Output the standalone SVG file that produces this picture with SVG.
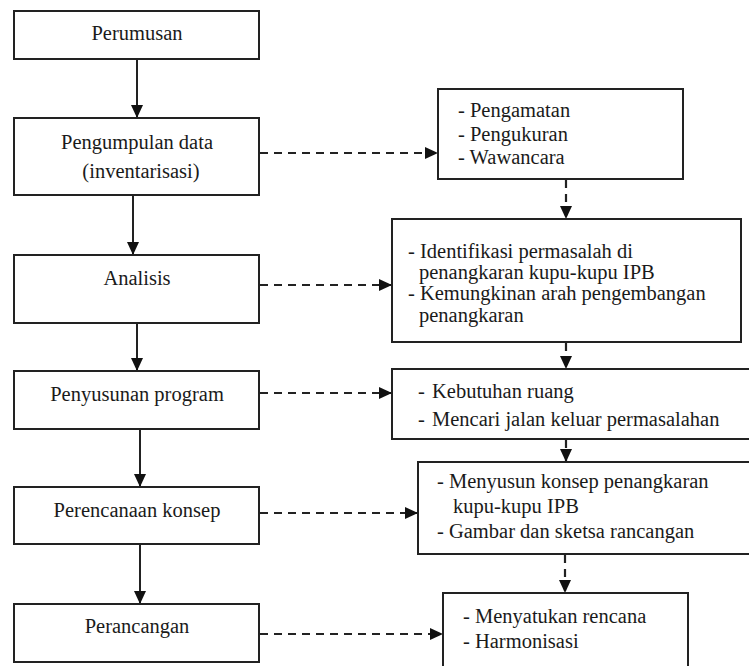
<svg xmlns="http://www.w3.org/2000/svg" width="749" height="666" viewBox="0 0 749 666">
<style>
  .box { fill: #ffffff; stroke: #222222; stroke-width: 2; }
  .t { font-family: "Liberation Serif", "Times New Roman", serif; font-size: 20.5px; fill: #1a1a1a; }
  .c { text-anchor: middle; }
  .solid { stroke: #222222; stroke-width: 2; fill: none; }
  .dash { stroke: #222222; stroke-width: 2.2; fill: none; stroke-dasharray: 8 6; }
</style>
<defs>
  <marker id="ah" viewBox="0 0 13 12" refX="12" refY="6" markerWidth="13" markerHeight="12" markerUnits="userSpaceOnUse" orient="auto">
    <path d="M0,0 L13,6 L0,12 Z" fill="#111111"/>
  </marker>
</defs>
<rect width="749" height="666" fill="#ffffff"/>

<g id="connectors">
  <line class="solid" x1="137" y1="59" x2="137" y2="117" marker-end="url(#ah)"/>
  <line class="solid" x1="133" y1="195" x2="133" y2="254" marker-end="url(#ah)"/>
  <line class="solid" x1="137" y1="323" x2="137" y2="370" marker-end="url(#ah)"/>
  <line class="solid" x1="140" y1="429" x2="140" y2="486" marker-end="url(#ah)"/>
  <line class="solid" x1="140" y1="544" x2="140" y2="603" marker-end="url(#ah)"/>

  <line class="dash" x1="260" y1="153" x2="437" y2="153" marker-end="url(#ah)"/>
  <line class="dash" x1="260" y1="285" x2="391" y2="285" marker-end="url(#ah)"/>
  <line class="dash" x1="260" y1="393" x2="391" y2="393" marker-end="url(#ah)"/>
  <line class="dash" x1="260" y1="513" x2="417" y2="513" marker-end="url(#ah)"/>
  <line class="dash" x1="260" y1="634" x2="442" y2="634" marker-end="url(#ah)"/>

  <line class="dash" x1="566" y1="180" x2="566" y2="218" marker-end="url(#ah)"/>
  <line class="dash" x1="566" y1="343" x2="566" y2="368" marker-end="url(#ah)"/>
  <line class="dash" x1="566" y1="440" x2="566" y2="461" marker-end="url(#ah)"/>
  <line class="dash" x1="565" y1="555" x2="565" y2="592" marker-end="url(#ah)"/>
</g>

<g id="perumusan">
  <rect class="box" x="14" y="11" width="245" height="48"/>
  <text class="t c" x="137" y="40">Perumusan</text>
</g>
<g id="pengumpulan">
  <rect class="box" x="14" y="118" width="245" height="77"/>
  <text class="t c" x="137" y="149">Pengumpulan data</text>
  <text class="t c" x="141" y="178">(inventarisasi)</text>
</g>
<g id="analisis">
  <rect class="box" x="14" y="255" width="245" height="68"/>
  <text class="t c" x="137" y="285">Analisis</text>
</g>
<g id="penyusunan">
  <rect class="box" x="14" y="371" width="245" height="58"/>
  <text class="t c" x="137" y="401">Penyusunan program</text>
</g>
<g id="perencanaan">
  <rect class="box" x="14" y="487" width="245" height="57"/>
  <text class="t c" x="137" y="517">Perencanaan konsep</text>
</g>
<g id="perancangan">
  <rect class="box" x="14" y="604" width="245" height="58"/>
  <text class="t c" x="137" y="633">Perancangan</text>
</g>

<g id="r-pengumpulan">
  <rect class="box" x="438" y="89" width="245" height="90"/>
  <text class="t" x="458" y="117">- Pengamatan</text>
  <text class="t" x="458" y="141">- Pengukuran</text>
  <text class="t" x="458" y="164">- Wawancara</text>
</g>
<g id="r-analisis">
  <rect class="box" x="392" y="219" width="349" height="123"/>
  <text class="t" x="408" y="258">- Identifikasi permasalah di</text>
  <text class="t" x="419" y="279">penangkaran kupu-kupu IPB</text>
  <text class="t" x="408" y="300">- Kemungkinan arah pengembangan</text>
  <text class="t" x="419" y="322">penangkaran</text>
</g>
<g id="r-penyusunan">
  <rect class="box" x="392" y="369" width="370" height="70"/>
  <text class="t" x="418" y="398">-</text>
  <text class="t" x="432" y="398">Kebutuhan ruang</text>
  <text class="t" x="418" y="426">-</text>
  <text class="t" x="432" y="426">Mencari jalan keluar permasalahan</text>
</g>
<g id="r-perencanaan">
  <rect class="box" x="418" y="462" width="344" height="92"/>
  <text class="t" x="437" y="488">- Menyusun konsep penangkaran</text>
  <text class="t" x="453" y="513">kupu-kupu IPB</text>
  <text class="t" x="437" y="538">- Gambar dan sketsa rancangan</text>
</g>
<g id="r-perancangan">
  <rect class="box" x="443" y="593" width="245" height="90"/>
  <text class="t" x="463" y="623">- Menyatukan rencana</text>
  <text class="t" x="463" y="648">- Harmonisasi</text>
</g>
</svg>
